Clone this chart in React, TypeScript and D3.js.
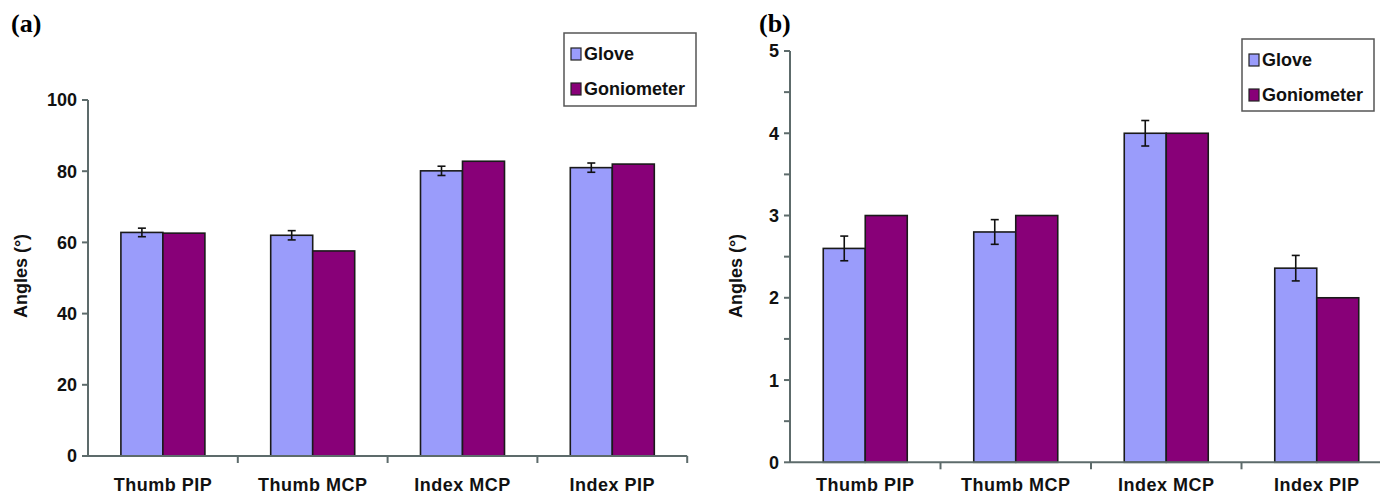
import React from "react";
import * as d3 from "d3";

const categories = ["Thumb PIP", "Thumb MCP", "Index MCP", "Index PIP"];
const series = ["Glove", "Goniometer"];
const gloveA = [62.8, 62.0, 80.1, 81.0];
const gloveErrA = [1.2, 1.3, 1.3, 1.3];
const gonioA = [62.6, 57.6, 82.8, 82.0];
const ticksA = [0, 20, 40, 60, 80, 100];

const gloveB = [2.6, 2.8, 4.0, 2.36];
const gloveErrB = [0.15, 0.15, 0.155, 0.155];
const gonioB = [3.0, 3.0, 4.0, 2.0];
const ticksB = [0, 1, 2, 3, 4, 5];
const minorB = [0.5, 1.5, 2.5, 3.5, 4.5];

const colors = ["#9a9cfb", "#880078"];
const axisColor = "#5d6b6b";
const FONT = "'Liberation Sans', Arial, sans-serif";

type PanelProps = {
  label: string;
  labelX: number;
  labelY: number;
  x0: number;
  step: number;
  yTop: number;
  yBottom: number;
  domainMax: number;
  ticks: number[];
  minor: number[];
  glove: number[];
  gloveErr: number[];
  gonio: number[];
  titleX: number;
  legend: { x: number; y: number; w: number; h: number };
};

function Panel(p: PanelProps) {
  const x = d3
    .scaleBand<string>()
    .domain(categories)
    .range([p.x0, p.x0 + p.step * categories.length])
    .paddingInner(0)
    .paddingOuter(0);
  const sub = d3
    .scaleBand<string>()
    .domain(series)
    .range([p.step / 2 - 42, p.step / 2 + 42]);
  const y = d3.scaleLinear().domain([0, p.domainMax]).range([p.yBottom, p.yTop]);
  const xEnd = p.x0 + p.step * categories.length;
  const vals = [p.glove, p.gonio];
  return (
    <g>
      <text
        x={p.labelX}
        y={p.labelY}
        fontFamily="'Liberation Serif', 'Times New Roman', serif"
        fontWeight="bold"
        fontSize={26}
      >
        {p.label}
      </text>
      {categories.map((c, i) =>
        series.map((s, j) => {
          const bx = (x(c) as number) + (sub(s) as number);
          const v = vals[j][i];
          return (
            <rect
              key={c + s}
              x={bx}
              y={y(v)}
              width={sub.bandwidth()}
              height={y(0) - y(v)}
              fill={colors[j]}
              stroke="#1a1a1a"
              strokeWidth={1.6}
            />
          );
        })
      )}
      {categories.map((c, i) => {
        const cx = (x(c) as number) + (sub("Glove") as number) + sub.bandwidth() / 2;
        const v = p.glove[i];
        const e = p.gloveErr[i];
        return (
          <g key={"e" + c} stroke="#111" strokeWidth={1.6}>
            <line x1={cx} x2={cx} y1={y(v + e)} y2={y(v - e)} />
            <line x1={cx - 4} x2={cx + 4} y1={y(v + e)} y2={y(v + e)} />
            <line x1={cx - 4} x2={cx + 4} y1={y(v - e)} y2={y(v - e)} />
          </g>
        );
      })}
      <line x1={p.x0} x2={p.x0} y1={p.yTop} y2={p.yBottom} stroke={axisColor} strokeWidth={2} />
      {p.ticks.map((t) => (
        <g key={"t" + t}>
          <line x1={p.x0 - 6} x2={p.x0} y1={y(t)} y2={y(t)} stroke={axisColor} strokeWidth={2} />
          <text
            x={p.x0 - 11}
            y={y(t)}
            dy="0.36em"
            textAnchor="end"
            fontFamily={FONT}
            fontWeight="bold"
            fontSize={18}
            fill="#111"
          >
            {t}
          </text>
        </g>
      ))}
      {p.minor.map((t) => (
        <line key={"m" + t} x1={p.x0 - 6} x2={p.x0} y1={y(t)} y2={y(t)} stroke={axisColor} strokeWidth={2} />
      ))}
      <line x1={p.x0} x2={xEnd} y1={p.yBottom} y2={p.yBottom} stroke={axisColor} strokeWidth={2} />
      {categories.map((c) => (
        <line
          key={"xt" + c}
          x1={(x(c) as number) + p.step}
          x2={(x(c) as number) + p.step}
          y1={p.yBottom}
          y2={p.yBottom + 7}
          stroke={axisColor}
          strokeWidth={2}
        />
      ))}
      {categories.map((c) => (
        <text
          key={"xl" + c}
          x={(x(c) as number) + p.step / 2}
          y={491}
          textAnchor="middle"
          fontFamily={FONT}
          fontWeight="bold"
          fontSize={18}
          letterSpacing={0.5}
          fill="#111"
        >
          {c}
        </text>
      ))}
      <text
        transform={`translate(${p.titleX},276) rotate(-90)`}
        textAnchor="middle"
        fontFamily={FONT}
        fontWeight="bold"
        fontSize={18}
        fill="#111"
      >
        Angles (°)
      </text>
      <rect
        x={p.legend.x}
        y={p.legend.y}
        width={p.legend.w}
        height={p.legend.h}
        fill="#fff"
        stroke="#555"
        strokeWidth={1.5}
      />
      {series.map((s, j) => (
        <g key={"lg" + s}>
          <rect
            x={p.legend.x + 7}
            y={p.legend.y + 15 + j * 35}
            width={10}
            height={12}
            fill={colors[j]}
            stroke="#222"
            strokeWidth={1.2}
          />
          <text
            x={p.legend.x + 20}
            y={p.legend.y + 27 + j * 35}
            fontFamily={FONT}
            fontWeight="bold"
            fontSize={18}
            fill="#111"
          >
            {s}
          </text>
        </g>
      ))}
    </g>
  );
}

export default function App() {
  return (
    <svg
      width={1380}
      height={499}
      style={{ position: "absolute", left: 0, top: 0, background: "#fff" }}
    >
      <rect width={1380} height={499} fill="#fff" />
      <Panel
        label="(a)"
        labelX={11}
        labelY={32}
        x0={88}
        step={149.8}
        yTop={100}
        yBottom={456}
        domainMax={100}
        ticks={ticksA}
        minor={[]}
        glove={gloveA}
        gloveErr={gloveErrA}
        gonio={gonioA}
        titleX={27}
        legend={{ x: 564, y: 33, w: 132, h: 73 }}
      />
      <Panel
        label="(b)"
        labelX={759}
        labelY={32}
        x0={790}
        step={150.5}
        yTop={51}
        yBottom={462.3}
        domainMax={5}
        ticks={ticksB}
        minor={minorB}
        glove={gloveB}
        gloveErr={gloveErrB}
        gonio={gonioB}
        titleX={742}
        legend={{ x: 1242, y: 39, w: 132, h: 72 }}
      />
    </svg>
  );
}
